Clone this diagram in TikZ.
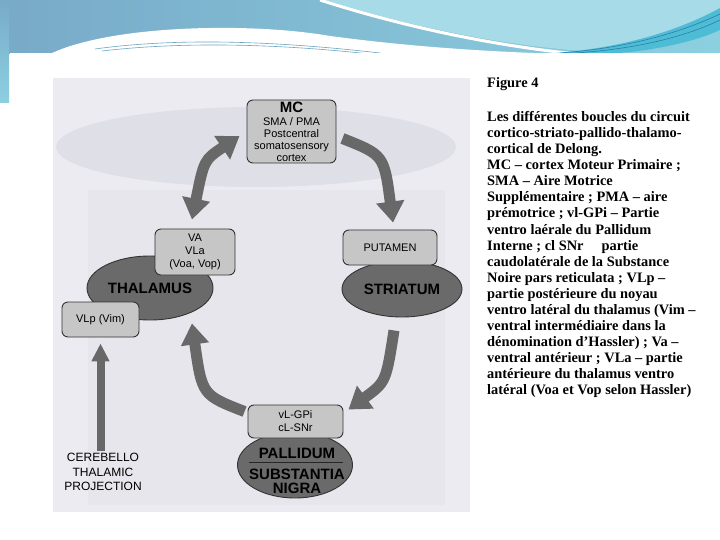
\documentclass[tikz,border=0pt]{standalone}
\usepackage{fontspec}
\setmainfont{Liberation Serif}
\setsansfont{Liberation Sans}
\usetikzlibrary{shapes.geometric,arrows.meta,calc}
\definecolor{boxfill}{HTML}{C6C6C6}
\definecolor{ellfill}{HTML}{6A6A6A}
\definecolor{arrowc}{HTML}{686868}
\definecolor{scanbg}{HTML}{EBEBF1}
\definecolor{ghost}{HTML}{DFDFE8}
\definecolor{ghostb}{HTML}{E6E6EC}
\definecolor{hdA}{HTML}{78AAC8}
\definecolor{hdB}{HTML}{8CD0E0}
\definecolor{hdC}{HTML}{A7DBE7}
\definecolor{hdD}{HTML}{4FBCD6}
\definecolor{hdE}{HTML}{2A7FA8}
\begin{document}
\begin{tikzpicture}[x=1pt,y=-1pt,
  box/.style={draw=black!80, line width=0.9pt, fill=boxfill, rounded corners=6pt,
    font=\sffamily\fontsize{11}{13}\selectfont, align=center, inner sep=0pt},
  blob/.style={ellipse, draw=black!80, line width=0.9pt, fill=ellfill, inner sep=0pt,
    font=\sffamily\bfseries\fontsize{15}{14}\selectfont, align=center},
  big/.style={font=\sffamily\bfseries\fontsize{15}{14}\selectfont, align=center, inner sep=0pt},
  flow/.style={draw=arrowc, line width=11pt, -{Triangle[length=21pt,width=27pt]}},
  dflow/.style={draw=arrowc, line width=11pt, {Triangle[length=21pt,width=27pt]}-{Triangle[length=21pt,width=27pt]}},
  thinflow/.style={draw=arrowc, line width=8pt, -{Triangle[length=18pt,width=17pt]}},
  captxt/.style={font=\bfseries\fontsize{14.4}{16}\selectfont, inner sep=0pt, anchor=base west},
]
\useasboundingbox (0,0) rectangle (720,540);
% header
\fill[left color=hdA, right color=hdB] (0,0) rectangle (720,54);
\fill[hdC] (325,0) .. controls (420,30) and (520,48) .. (600,52) -- (720,30) -- (720,0) -- cycle;
\draw[white, line width=3pt] (320,0) .. controls (420,32) and (520,50) .. (600,56);
\fill[hdD] (540,54) .. controls (620,50) and (680,30) .. (720,8) -- (720,30) .. controls (690,44) and (640,53) .. (600,54) -- cycle;
\draw[hdE, line width=0.6pt] (560,53) .. controls (640,47) and (690,28) .. (720,14);
\draw[hdE, line width=0.6pt] (575,53) .. controls (650,48) and (695,32) .. (720,20);
\fill[white] (50,54) .. controls (110,25) and (250,22) .. (330,36) .. controls (420,48) and (500,52) .. (560,54) -- cycle;
\draw[hdE!70, line width=0.6pt] (95,49) .. controls (160,40) and (250,38) .. (380,53);
\draw[hdE!70, line width=0.6pt] (102,51) .. controls (170,43) and (260,42) .. (370,54);
\fill[white] (10,53) rectangle (720,540);
\fill[white] (0,103) rectangle (10,540);
\fill[top color=hdA, bottom color=hdB] (0,0) rectangle (9,103);
% scanned figure background
\fill[scanbg] (53,78) rectangle (470,512);
\fill[ghostb] (88,190) rectangle (445,505);
\fill[ghost] (256,147) ellipse [x radius=200pt, y radius=40pt];
% thalamus
\node[blob, minimum width=126pt, minimum height=64pt] (thal) at (150,288) {THALAMUS};
\node[box, minimum width=80pt, minimum height=46pt] (va) at (195,252) {VA\\VLa\\(Voa, Vop)};
\node[box, minimum width=77pt, minimum height=35pt] (vlp) at (100.5,319.5) {VLp (Vim)};
% striatum
\node[blob, minimum width=120pt, minimum height=56pt] (str) at (402,289) {STRIATUM};
\node[box, minimum width=94pt, minimum height=35pt] (put) at (390,247.5) {PUTAMEN};
% pallidum
\node[blob, minimum width=115pt, minimum height=66pt] (pal) at (295,465) {};
\node[big] (paltxt) at (297,453) {PALLIDUM};
\node[big] (sntxt) at (297,481.5) {SUBSTANTIA\\NIGRA};
\draw[black!85, line width=0.8pt] ($(pal.west)+(12,-3)$) -- ($(pal.east)+(-10,-3)$);
\node[box, minimum width=95pt, minimum height=33pt, font=\sffamily\fontsize{11}{13}\selectfont] (gpi) at (295.5,421.5) {vL-GPi\\cL-SNr};
% MC
\node[box, minimum width=89pt, minimum height=63pt, font=\sffamily\fontsize{11}{12}\selectfont] (mc) at (291.5,131.5)
  {{\bfseries\fontsize{15}{15}\selectfont MC}\\[1pt]SMA / PMA\\Postcentral\\somatosensory\\cortex};
% cerebello
\node[font=\sffamily\fontsize{12}{14.5}\selectfont, align=center, inner sep=0pt] (cer) at (103,472) {CEREBELLO\\THALAMIC\\PROJECTION};
% arrows
\draw[dflow] ([shift={(-7,4.5)}]mc.west) .. controls (204,160) .. ([shift={(-3,-9)}]va.north);
\draw[flow] ([shift={(6,7)}]mc.east) .. controls (384,155) .. ([shift={(3,-7)}]put.north);
\draw[flow] ([shift={(-8,13)}]str.south) .. controls (386,382) .. ([shift={(5,5)}]gpi.north east);
\draw[flow] ([shift={(-3,7)}]gpi.north west) .. controls (202,395) .. ([shift={(42,3)}]thal.south);
\draw[thinflow] ($(vlp.south |- cer.north)+(0,-2)$) -- ([shift={(0,6)}]vlp.south);
% caption
\node[captxt] (fig) at (487,88) {Figure 4};
\foreach \t [count=\i from 0] in {
 {Les différentes boucles du circuit},
 {cortico-striato-pallido-thalamo-},
 {cortical de Delong.},
 {MC – cortex Moteur Primaire ;},
 {SMA – Aire Motrice},
 {Supplémentaire ; PMA – aire},
 {prémotrice ; vl-GPi – Partie},
 {ventro laérale du Pallidum},
 {Interne ; cl SNr \quad partie},
 {caudolatérale de la Substance},
 {Noire pars reticulata ; VLp –},
 {partie postérieure du noyau},
 {ventro latéral du thalamus (Vim –},
 {ventral intermédiaire dans la},
 {dénomination d’Hassler) ; Va –},
 {ventral antérieur ; VLa – partie},
 {antérieure du thalamus ventro},
 {latéral (Voa et Vop selon Hassler)}}
  \node[captxt] (cap\i) at (487,{122+16*\i}) {\t};
\end{tikzpicture}
\end{document}
